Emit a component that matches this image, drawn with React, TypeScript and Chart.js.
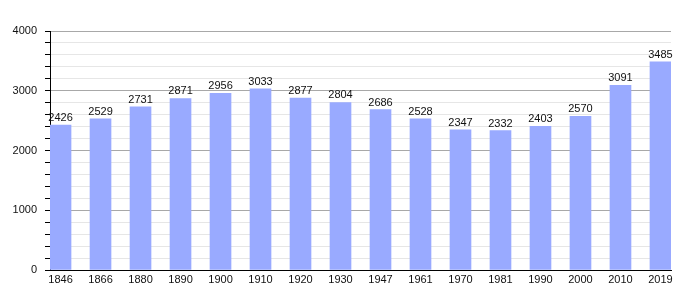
import React, { useEffect, useRef } from "react";
import { Chart, registerables } from "chart.js";

Chart.register(...registerables);

const years = ["1846", "1866", "1880", "1890", "1900", "1910", "1920", "1930", "1947", "1961", "1970", "1981", "1990", "2000", "2010", "2019"];
const population = [2426, 2529, 2731, 2871, 2956, 3033, 2877, 2804, 2686, 2528, 2347, 2332, 2403, 2570, 3091, 3485];
const yTickStep = 200;
const yMajorStep = 1000;
const yMax = 4000;

const FONT = "'Liberation Sans', Arial, sans-serif";

const valueLabels = {
  id: "valueLabels",
  afterDatasetsDraw(chart: any) {
    const ctx = chart.ctx;
    const meta = chart.getDatasetMeta(0);
    ctx.save();
    ctx.font = `11px ${FONT}`;
    ctx.fillStyle = "#111";
    ctx.textAlign = "center";
    ctx.textBaseline = "alphabetic";
    meta.data.forEach((el: any, i: number) => {
      ctx.fillText(String(population[i]), el.x, el.y - 4);
    });
    ctx.restore();
  },
};

export default function App() {
  const ref = useRef<HTMLCanvasElement | null>(null);
  useEffect(() => {
    if (!ref.current) return;
    const chart = new Chart(ref.current, {
      type: "bar",
      data: {
        datasets: [
          {
            data: population.map((v, i) => ({ x: i, y: v })),
            backgroundColor: "#99aaff",
            borderWidth: 0,
            barThickness: 21,
          },
        ],
      },
      options: {
        animation: false,
        responsive: false,
        maintainAspectRatio: false,
        layout: { padding: { top: 31, right: 29, left: 0, bottom: 0 } },
        plugins: { legend: { display: false }, tooltip: { enabled: false } },
        scales: {
          x: {
            type: "linear",
            offset: false,
            min: -0.263,
            max: 15.263,
            afterBuildTicks: (axis: any) => {
              axis.ticks = years.map((_, i) => ({ value: i }));
            },
            afterFit: (scale: any) => {
              scale.height = 30;
            },
            grid: { display: false, drawTicks: false, offset: false },
            border: { display: true, color: "#000", width: 1 },
            ticks: {
              autoSkip: false,
              maxRotation: 0,
              padding: 3,
              color: "#111",
              font: { family: FONT, size: 11 },
              callback: (v: any) => years[v] ?? "",
            },
          },
          y: {
            min: 0,
            max: yMax,
            afterFit: (scale: any) => {
              scale.width = 50;
            },
            border: { display: true, color: "#000", width: 1 },
            grid: {
              color: (c: any) => (c.tick && c.tick.value % yMajorStep === 0 ? "#a8a8a8" : "#e6e6e6"),
              tickColor: "#000",
              tickLength: 5,
              drawTicks: true,
            },
            ticks: {
              stepSize: yTickStep,
              autoSkip: false,
              padding: 8,
              color: "#111",
              font: { family: FONT, size: 11 },
              callback: (v: any) => (Number(v) % yMajorStep === 0 ? String(v) : ""),
            },
          },
        },
      },
      plugins: [valueLabels],
    });
    return () => chart.destroy();
  }, []);
  return (
    <div style={{ position: "fixed", left: 0, top: 0, width: 700, height: 300, background: "#fff" }}>
      <canvas ref={ref} width={700} height={300} style={{ width: 700, height: 300 }} />
    </div>
  );
}
